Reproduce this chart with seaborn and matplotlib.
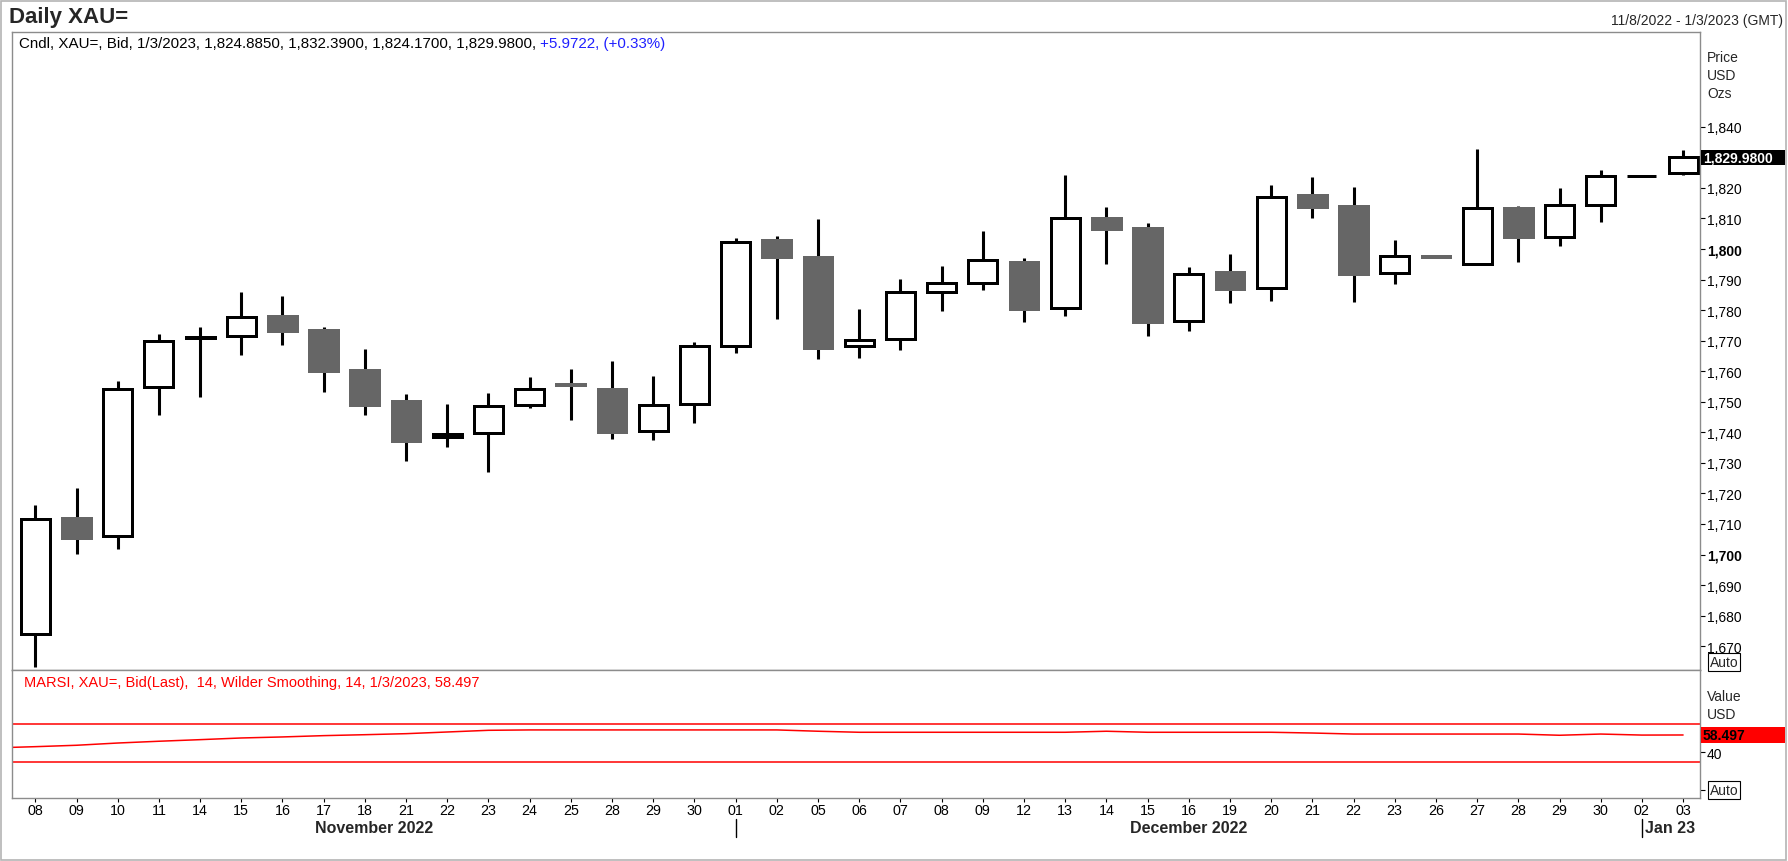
import numpy as np
import pandas as pd
import seaborn as sns
import matplotlib.pyplot as plt
from matplotlib.patches import Rectangle

# Daily XAU= bid candles, 11/8/2022 - 1/3/2023
dates = ["2022-11-08", "2022-11-09", "2022-11-10", "2022-11-11", "2022-11-14", "2022-11-15",
         "2022-11-16", "2022-11-17", "2022-11-18", "2022-11-21", "2022-11-22", "2022-11-23",
         "2022-11-24", "2022-11-25", "2022-11-28", "2022-11-29", "2022-11-30", "2022-12-01",
         "2022-12-02", "2022-12-05", "2022-12-06", "2022-12-07", "2022-12-08", "2022-12-09",
         "2022-12-12", "2022-12-13", "2022-12-14", "2022-12-15", "2022-12-16", "2022-12-19",
         "2022-12-20", "2022-12-21", "2022-12-22", "2022-12-23", "2022-12-26", "2022-12-27",
         "2022-12-28", "2022-12-29", "2022-12-30", "2023-01-02", "2023-01-03"]
opens = [1674.0, 1712.0, 1706.0, 1754.7, 1771.0, 1771.5, 1778.1, 1773.5, 1760.4, 1750.2,
         1738.5, 1739.8, 1748.9, 1755.8, 1754.2, 1740.5, 1749.4, 1768.3, 1802.9, 1797.4,
         1768.2, 1770.4, 1786.0, 1788.9, 1795.7, 1780.8, 1810.1, 1806.9, 1776.4, 1792.5,
         1787.2, 1817.6, 1814.0, 1792.1, 1797.8, 1795.2, 1813.5, 1804.0, 1814.5, 1824.0078,
         1824.885]
highs = [1716.2, 1721.7, 1756.8, 1772.2, 1774.5, 1785.9, 1784.6, 1774.4, 1767.3, 1752.5,
         1749.3, 1752.9, 1758.0, 1760.7, 1763.3, 1758.4, 1769.5, 1803.5, 1804.1, 1809.8,
         1780.3, 1790.2, 1794.4, 1805.9, 1797.0, 1824.3, 1813.7, 1808.5, 1794.2, 1798.3,
         1820.9, 1823.5, 1820.3, 1802.9, 1797.9, 1832.7, 1814.2, 1819.8, 1825.8, 1824.0078,
         1832.39]
lows = [1663.1, 1700.3, 1701.9, 1745.8, 1751.6, 1765.4, 1768.7, 1753.1, 1745.8, 1730.7,
        1735.3, 1726.9, 1747.8, 1744.1, 1737.8, 1737.6, 1743.1, 1766.1, 1777.1, 1764.0,
        1764.3, 1767.0, 1779.8, 1786.7, 1776.2, 1778.2, 1795.2, 1771.4, 1773.0, 1782.4,
        1783.1, 1810.2, 1782.7, 1788.6, 1797.0, 1795.0, 1795.6, 1800.9, 1808.7, 1824.0078,
        1824.17]
closes = [1711.6, 1705.5, 1754.2, 1770.0, 1771.2, 1777.8, 1773.2, 1760.2, 1749.0, 1737.3,
          1739.6, 1748.7, 1754.3, 1755.6, 1740.2, 1749.0, 1768.1, 1802.4, 1797.5, 1767.7,
          1770.3, 1785.8, 1788.8, 1796.3, 1780.3, 1810.0, 1806.6, 1776.2, 1791.9, 1787.0,
          1817.1, 1813.8, 1791.9, 1797.6, 1797.5, 1813.4, 1803.8, 1814.4, 1823.9, 1824.0078,
          1829.98]

# MARSI(14) values, previous session first
rsi_prev = 44.7
rsi = [46.0, 47.5, 49.9, 51.8, 53.5, 55.3, 56.4, 57.8, 58.8, 59.9, 61.7, 63.5,
       63.9, 63.9, 63.9, 63.9, 63.9, 63.9, 63.9, 62.5,
       61.4, 61.4, 61.4, 61.4, 61.4, 61.4, 62.5, 61.4, 61.4, 61.4, 61.4, 60.6,
       59.5, 59.5, 59.5, 59.5, 59.5, 58.2, 59.5, 58.4, 58.497]
rsi_upper = 70
rsi_lower = 30

# 1,830 sits under the last-price box, so it is not labelled
price_ticks = [1670, 1680, 1690, 1700, 1710, 1720, 1730, 1740, 1750, 1760, 1770, 1780,
               1790, 1800, 1810, 1820, 1840]
bold_ticks = [1700, 1800]

W, H = 1788, 862
GRAY = "#666666"
FRAME = "#8c8c8c"

sns.set_theme(style="white")
plt.rcParams['font.family'] = ['Liberation Sans', 'DejaVu Sans']

df = pd.DataFrame({"date": pd.to_datetime(dates), "open": opens, "high": highs,
                   "low": lows, "close": closes, "rsi": rsi})
df["x"] = np.arange(len(df))
up = df["close"] >= df["open"]


def px_box(l, t, r, b):
    return [l / W, 1 - b / H, (r - l) / W, (b - t) / H]


def ftext(x, y, s, **kw):
    return fig.text(x / W, 1 - y / H, s, **kw)


fig = plt.figure(figsize=(W / 100, H / 100), dpi=100)
ax = fig.add_axes(px_box(12, 33, 1700, 671))
ax2 = fig.add_axes(px_box(12, 671, 1700, 799), sharex=ax)

# Candles: wicks behind, bodies on top
ax.vlines(df["x"], df["low"], df["high"], color="black", lw=2.2, zorder=1)
ax.bar(df["x"], df["close"] - df["open"], bottom=df["open"], width=0.7,
       color=np.where(up, "white", GRAY), edgecolor=np.where(up, "black", GRAY),
       linewidth=2.16, zorder=2)
ax.set_xlim(-0.566, 40.41)
ax.set_ylim(1662.2, 1871.0)

# RSI panel
ax2.axhline(rsi_upper, color="red", lw=1.1)
ax2.axhline(rsi_lower, color="red", lw=1.1)
sns.lineplot(x=np.r_[-1, df["x"]], y=np.r_[rsi_prev, df["rsi"]], ax=ax2,
             color="red", lw=1.1)
ax2.set_ylim(-8.9, 128.0)

for a in (ax, ax2):
    a.grid(False)
    a.set_xlabel("")
    a.set_ylabel("")
    for sp in a.spines.values():
        sp.set_color(FRAME)
        sp.set_linewidth(1.0)
    a.yaxis.tick_right()

ax.set_yticks(price_ticks)
ax.set_yticklabels([f"{v:,}" for v in price_ticks])
for lab, v in zip(ax.get_yticklabels(), price_ticks):
    if v in bold_ticks:
        lab.set_fontweight("bold")
ax.tick_params(axis="y", right=True, left=False, direction="out", length=3.6, width=0.8,
               pad=1.5, labelsize=10, colors="black")
ax.tick_params(axis="x", bottom=False, labelbottom=False)

ax2.set_yticks([0, 40])
ax2.set_yticklabels(["", "40"])
ax2.tick_params(axis="y", right=True, left=False, direction="out", length=3.6, width=0.8,
                pad=1.5, labelsize=10, colors="black")
ax2.set_xticks(df["x"])
ax2.set_xticklabels(df["date"].dt.strftime("%d"))
ax2.tick_params(axis="x", bottom=True, direction="out", length=2.9, width=0.8, pad=0.5,
                labelsize=10.3, colors="black")

# Month labels and separators under the day ticks
xt = ax2.get_xaxis_transform()
lo, hi = ax.get_xlim()
months = df.groupby(df["date"].dt.to_period("M"))
starts = [g["x"].iloc[0] for _, g in months]
for k, (per, g) in enumerate(months):
    left = lo if k == 0 else starts[k]
    right = starts[k + 1] if k + 1 < len(starts) else hi
    if k > 0:
        ax2.plot([left, left], [-0.164, -0.305], transform=xt, clip_on=False,
                 color="black", lw=1.0)
    if len(g) >= 5:
        ax2.text((left + right) / 2, -0.227, per.strftime("%B %Y"), transform=xt,
                 ha="center", va="center", fontsize=11.5, fontweight="bold")
    else:
        ax2.text(left + 0.08, -0.227, per.strftime("%b %y"), transform=xt,
                 ha="left", va="center", fontsize=11.5, fontweight="bold")

# Titles and headers
first, last = df["date"].iloc[0], df["date"].iloc[-1]
ftext(9, 17.5, "Daily XAU=", fontsize=16, fontweight="bold", va="center")
ftext(1783, 21.3, f"{first.month}/{first.day}/{first.year} - {last.month}/{last.day}/{last.year} (GMT)",
      ha="right", va="center", fontsize=10)

o, h, l, c = opens[-1], highs[-1], lows[-1], closes[-1]
chg = c - closes[-2]
pct = chg / closes[-2] * 100
lastd = f"{last.month}/{last.day}/{last.year}"
head = ftext(19, 44, f"Cndl, XAU=, Bid, {lastd}, {o:,.4f}, {h:,.4f}, {l:,.4f}, {c:,.4f}, ",
             fontsize=10.9, va="center", color="black")
fig.canvas.draw()
ax.annotate(f"{chg:+.4f}, ({pct:+.2f}%)", xy=(1, 0.5), xycoords=head, va="center",
            ha="left", fontsize=10.9, color="#2020ff")
ftext(23.7, 682.5, f"MARSI, XAU=, Bid(Last),  14, Wilder Smoothing, 14, {lastd}, {rsi[-1]:.3f}",
      fontsize=10.5, va="center", color="red")

for s, y in zip(["Price", "USD", "Ozs"], [58, 76, 94]):
    ftext(1707, y, s, fontsize=10, va="center")
for s, y in zip(["Value", "USD"], [697, 715]):
    ftext(1707, y, s, fontsize=10, va="center")

# Last value boxes
yc = ax.transData.transform((0, closes[-1]))[1]
fig.add_artist(Rectangle((1701 / W, (yc - 7.5) / H), 84 / W, 15 / H,
                         transform=fig.transFigure, fc="black", ec="none"))
fig.text(1703 / W, yc / H, f"{closes[-1]:,.4f}", color="white", fontsize=10,
         fontweight="bold", va="center")
yr = ax2.transData.transform((0, rsi[-1]))[1]
fig.add_artist(Rectangle((1701 / W, (yr - 7.8) / H), 84 / W, 15.5 / H,
                         transform=fig.transFigure, fc="red", ec="none"))
fig.text(1703 / W, yr / H, f"{rsi[-1]:.3f}", color="black", fontsize=10,
         fontweight="bold", va="center")

for y in (663, 791):
    ftext(1710, y, "Auto", fontsize=10, va="center",
          bbox=dict(boxstyle="square,pad=0.12", fc="white", ec="black", lw=0.8))

# Outer window frame
fig.add_artist(Rectangle((1 / W, 1.5 / H), (W - 3) / W, (H - 3) / H,
                         transform=fig.transFigure, fill=False, ec="#b4b4b4", lw=1.2))

fig.savefig("out.png", dpi=100)
